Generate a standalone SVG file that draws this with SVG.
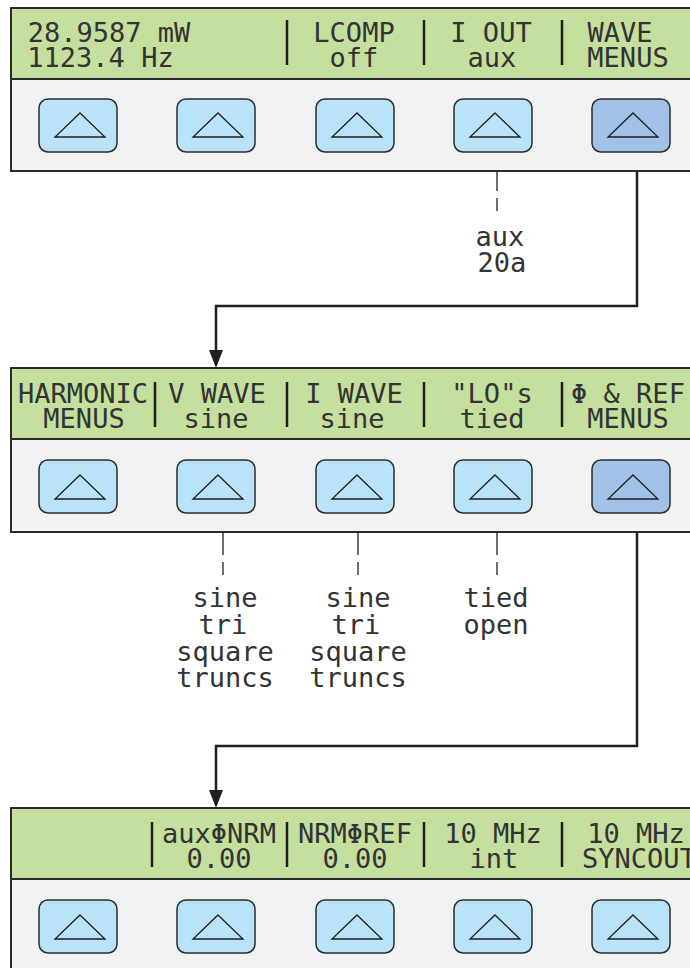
<svg xmlns="http://www.w3.org/2000/svg" width="690" height="968" viewBox="0 0 690 968">
<defs>
<style>
.panel{fill:#f1f2f4;stroke:#2b2b2b;stroke-width:2}
.disp{fill:#c5df9e;stroke:#2b2b2b;stroke-width:2}
.sep{stroke:#1e1e1e;stroke-width:2.5}
.btn{fill:#b8e3f8;stroke:#2b2b2b;stroke-width:1.5}
.btn.hi{fill:#a1c2e6}
.tri{fill:none;stroke:#1e1e1e;stroke-width:1.3}
.t{font-family:"DejaVu Sans Mono","Liberation Mono",monospace;font-size:27px;fill:#333;text-anchor:middle}
.ts{text-anchor:start}
.conn{fill:none;stroke:#231f20;stroke-width:2.5}
.dash{fill:none;stroke:#231f20;stroke-width:1.3}
</style>
<marker id="arr" viewBox="0 0 18 14" refX="10" refY="7" markerWidth="18" markerHeight="14" markerUnits="userSpaceOnUse" orient="auto">
<path d="M0,0 L18,7 L0,14 z" fill="#231f20"/>
</marker>
<g id="btnshape">
<rect class="btn" x="0" y="0" width="78" height="53" rx="9"/>
</g>
</defs>

<g id="panel-top">
<rect class="panel" x="11" y="8" width="690" height="163"/>
<rect class="disp" x="11" y="8" width="690" height="71"/>
<line class="sep" x1="287" y1="20" x2="287" y2="65"/>
<line class="sep" x1="424" y1="20" x2="424" y2="65"/>
<line class="sep" x1="562" y1="20" x2="562" y2="65"/>
<text class="t" x="109" y="42">28.9587 mW</text>
<text class="t" x="100.5" y="67">1123.4 Hz</text>
<text class="t" x="354" y="42">LCOMP</text>
<text class="t" x="354" y="67">off</text>
<text class="t" x="491" y="42">I OUT</text>
<text class="t" x="492" y="67">aux</text>
<text class="t" x="620" y="42">WAVE</text>
<text class="t" x="628" y="67">MENUS</text>
<g id="top-b1"><rect class="btn" x="39" y="99" width="78" height="53" rx="9"/><path class="tri" d="M80,113 L105,137 L55,137 z"/></g>
<g id="top-b2"><rect class="btn" x="177" y="99" width="78" height="53" rx="9"/><path class="tri" d="M218,113 L243,137 L193,137 z"/></g>
<g id="top-b3"><rect class="btn" x="316" y="99" width="78" height="53" rx="9"/><path class="tri" d="M357,113 L382,137 L332,137 z"/></g>
<g id="top-b4"><rect class="btn" x="454" y="99" width="78" height="53" rx="9"/><path class="tri" d="M495,113 L520,137 L470,137 z"/></g>
<g id="top-b5"><rect class="btn hi" x="592" y="99" width="78" height="53" rx="9"/><path class="tri" d="M633,113 L658,137 L608,137 z"/></g>
</g>

<g id="panel-mid">
<rect class="panel" x="11" y="368" width="690" height="164"/>
<rect class="disp" x="11" y="368" width="690" height="71"/>
<line class="sep" x1="155" y1="382" x2="155" y2="427"/>
<line class="sep" x1="287" y1="382" x2="287" y2="427"/>
<line class="sep" x1="424" y1="382" x2="424" y2="427"/>
<line class="sep" x1="562" y1="382" x2="562" y2="427"/>
<text class="t" x="83" y="403">HARMONIC</text>
<text class="t" x="84" y="428">MENUS</text>
<text class="t" x="217" y="403">V WAVE</text>
<text class="t" x="216" y="428">sine</text>
<text class="t" x="354" y="403">I WAVE</text>
<text class="t" x="352" y="428">sine</text>
<text class="t" x="492" y="403">"LO"s</text>
<text class="t" x="492" y="428">tied</text>
<text class="t" x="628" y="403">Φ &amp; REF</text>
<text class="t" x="628" y="428">MENUS</text>
<g id="mid-b1"><rect class="btn" x="39" y="460" width="78" height="53" rx="9"/><path class="tri" d="M80,475 L105,499 L55,499 z"/></g>
<g id="mid-b2"><rect class="btn" x="177" y="460" width="78" height="53" rx="9"/><path class="tri" d="M218,475 L243,499 L193,499 z"/></g>
<g id="mid-b3"><rect class="btn" x="316" y="460" width="78" height="53" rx="9"/><path class="tri" d="M357,475 L382,499 L332,499 z"/></g>
<g id="mid-b4"><rect class="btn" x="454" y="460" width="78" height="53" rx="9"/><path class="tri" d="M495,475 L520,499 L470,499 z"/></g>
<g id="mid-b5"><rect class="btn hi" x="592" y="460" width="78" height="53" rx="9"/><path class="tri" d="M633,475 L658,499 L608,499 z"/></g>
</g>

<g id="panel-bot">
<rect class="panel" x="11" y="808" width="690" height="170"/>
<rect class="disp" x="11" y="808" width="690" height="71"/>
<line class="sep" x1="152" y1="822" x2="152" y2="867"/>
<line class="sep" x1="287" y1="822" x2="287" y2="867"/>
<line class="sep" x1="424" y1="822" x2="424" y2="867"/>
<line class="sep" x1="562" y1="822" x2="562" y2="867"/>
<text class="t" x="219" y="843">auxΦNRM</text>
<text class="t" x="219" y="868">0.00</text>
<text class="t" x="355" y="843">NRMΦREF</text>
<text class="t" x="355" y="868">0.00</text>
<text class="t" x="493" y="843">10 MHz</text>
<text class="t" x="494" y="868">int</text>
<text class="t" x="636" y="843">10 MHz</text>
<text class="t" x="639" y="868">SYNCOUT</text>
<g id="bot-b1"><rect class="btn" x="39" y="900" width="78" height="53" rx="9"/><path class="tri" d="M80,915 L105,939 L55,939 z"/></g>
<g id="bot-b2"><rect class="btn" x="177" y="900" width="78" height="53" rx="9"/><path class="tri" d="M218,915 L243,939 L193,939 z"/></g>
<g id="bot-b3"><rect class="btn" x="316" y="900" width="78" height="53" rx="9"/><path class="tri" d="M357,915 L382,939 L332,939 z"/></g>
<g id="bot-b4"><rect class="btn" x="454" y="900" width="78" height="53" rx="9"/><path class="tri" d="M495,915 L520,939 L470,939 z"/></g>
<g id="bot-b5"><rect class="btn" x="592" y="900" width="78" height="53" rx="9"/><path class="tri" d="M633,915 L658,939 L608,939 z"/></g>
</g>

<g id="options">
<text class="t" x="500" y="246">aux</text>
<text class="t" x="502" y="272">20a</text>
<text class="t" x="225" y="607">sine</text>
<text class="t" x="223" y="634">tri</text>
<text class="t" x="225" y="661">square</text>
<text class="t" x="225" y="687">truncs</text>
<text class="t" x="358" y="607">sine</text>
<text class="t" x="356" y="634">tri</text>
<text class="t" x="358" y="661">square</text>
<text class="t" x="358" y="687">truncs</text>
<text class="t" x="496" y="607">tied</text>
<text class="t" x="496" y="634">open</text>
</g>

<g id="connectors">
<path class="dash" d="M497,171 V191 M497,198 V211"/>
<path class="dash" d="M223,532 V555 M223,562 V575"/>
<path class="dash" d="M358,532 V555 M358,562 V575"/>
<path class="dash" d="M497,532 V555 M497,562 V575"/>
<path class="conn" d="M637,171 V306 H216 V360" marker-end="url(#arr)"/>
<path class="conn" d="M637,532 V746 H216 V800" marker-end="url(#arr)"/>
</g>
</svg>
